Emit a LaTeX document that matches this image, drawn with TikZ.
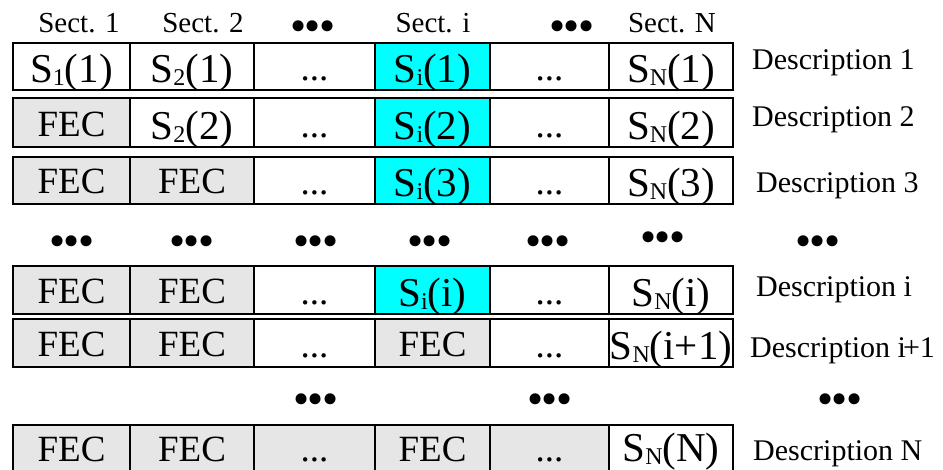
\documentclass[tikz,border=0pt]{standalone}
\usepackage{fontspec}
\setmainfont{Liberation Serif}
\definecolor{fecgray}{RGB}{230,230,230}
\definecolor{hlcyan}{RGB}{0,255,255}
% subscript after S
\newcommand\Sx[1]{\raisebox{-3pt}{\fontsize{24}{24}\selectfont #1}}
% three large bullets set close together
\newcommand\bigdots{•\kern-2pt•\kern-2pt•}
% one cell: name, x1, x2, y1, y2, box style, text style, text
\newcommand\putcell[8]{%
  \node[#6,minimum width={#3-#2},minimum height={#5-#4}] (#1) at ({(#2+#3)/2},{(#4+#5)/2}) {};
  \node[#7] at (#1.south) {#8};
}
\begin{document}
\begin{tikzpicture}[x=1pt,y=-1pt,
  cellbox/.style={draw=black,line width=1.2pt,inner sep=0pt,outer sep=0pt,fill=white},
  fecbox/.style={cellbox,fill=fecgray},
  hlbox/.style={cellbox,fill=hlcyan},
  rowframe/.style={draw=black,line width=2pt},
  stxt/.style={font=\fontsize{41}{41}\selectfont,inner sep=0pt,anchor=base,yshift=7pt},
  ftxt/.style={font=\fontsize{37}{37}\selectfont,inner sep=0pt,anchor=base,yshift=10pt},
  dtxt/.style={font=\fontsize{37}{37}\selectfont,inner sep=0pt,anchor=base,yshift=9pt},
  hdr/.style={font=\fontsize{29}{29}\selectfont,inner sep=0pt,anchor=base},
  bul/.style={font=\fontsize{46}{46}\selectfont,inner sep=0pt,anchor=base,yshift=-16.8pt},
  desc/.style={font=\fontsize{30}{30}\selectfont,inner sep=0pt,anchor=base west}]
\useasboundingbox (0,0) rectangle (943,470);

% column headers
\node[hdr] (h1) at (79,33) {Sect. 1};
\node[hdr] (h2) at (203,33) {Sect. 2};
\node[bul] (h3) at (313,25) {\bigdots};
\node[hdr] (h4) at (433,33) {Sect. i};
\node[bul] (h5) at (572,25) {\bigdots};
\node[hdr] (h6) at (672,33) {Sect. N};

% row 1
\putcell{r1a}{13}{130}{43}{90}{cellbox}{stxt}{S\Sx{1}(1)}
\putcell{r1b}{130}{254}{43}{90}{cellbox}{stxt}{S\Sx{2}(1)}
\putcell{r1c}{254}{375}{43}{90}{cellbox}{dtxt}{...}
\putcell{r1d}{375}{490}{43}{90}{hlbox}{stxt}{S\Sx{i}(1)}
\putcell{r1e}{490}{609}{43}{90}{cellbox}{dtxt}{...}
\putcell{r1f}{609}{733}{43}{90}{cellbox}{stxt}{S\Sx{N}(1)}
\draw[rowframe] (r1a.north west) rectangle (r1f.south east);
\node[desc] (d1) at (752,70) {Description 1};

% row 2
\putcell{r2a}{13}{130}{98}{147}{fecbox}{ftxt}{FEC}
\putcell{r2b}{130}{254}{98}{147}{cellbox}{stxt}{S\Sx{2}(2)}
\putcell{r2c}{254}{375}{98}{147}{cellbox}{dtxt}{...}
\putcell{r2d}{375}{490}{98}{147}{hlbox}{stxt}{S\Sx{i}(2)}
\putcell{r2e}{490}{609}{98}{147}{cellbox}{dtxt}{...}
\putcell{r2f}{609}{733}{98}{147}{cellbox}{stxt}{S\Sx{N}(2)}
\draw[rowframe] (r2a.north west) rectangle (r2f.south east);
\node[desc] (d2) at (752,127) {Description 2};

% row 3
\putcell{r3a}{13}{130}{157}{204}{fecbox}{ftxt}{FEC}
\putcell{r3b}{130}{254}{157}{204}{fecbox}{ftxt}{FEC}
\putcell{r3c}{254}{375}{157}{204}{cellbox}{dtxt}{...}
\putcell{r3d}{375}{490}{157}{204}{hlbox}{stxt}{S\Sx{i}(3)}
\putcell{r3e}{490}{609}{157}{204}{cellbox}{dtxt}{...}
\putcell{r3f}{609}{733}{157}{204}{cellbox}{stxt}{S\Sx{N}(3)}
\draw[rowframe] (r3a.north west) rectangle (r3f.south east);
\node[desc] (d3) at (756,193) {Description 3};

% skipped rows
\node[bul] (g1) at (72,240) {\bigdots};
\node[bul] (g2) at (192,240) {\bigdots};
\node[bul] (g3) at (316,240) {\bigdots};
\node[bul] (g4) at (430,240) {\bigdots};
\node[bul] (g5) at (548,240) {\bigdots};
\node[bul] (g6) at (663,236) {\bigdots};
\node[bul] (g7) at (818,240) {\bigdots};

% row i
\putcell{ria}{13}{130}{266}{314}{fecbox}{ftxt}{FEC}
\putcell{rib}{130}{254}{266}{314}{fecbox}{ftxt}{FEC}
\putcell{ric}{254}{375}{266}{314}{cellbox}{dtxt}{...}
\putcell{rid}{375}{490}{266}{314}{hlbox}{stxt}{S\Sx{i}(i)}
\putcell{rie}{490}{609}{266}{314}{cellbox}{dtxt}{...}
\putcell{rif}{609}{733}{266}{314}{cellbox}{stxt}{S\Sx{N}(i)}
\draw[rowframe] (ria.north west) rectangle (rif.south east);
\node[desc] (di) at (756,297) {Description i};

% row i+1
\putcell{rja}{13}{130}{319}{367}{fecbox}{ftxt}{FEC}
\putcell{rjb}{130}{254}{319}{367}{fecbox}{ftxt}{FEC}
\putcell{rjc}{254}{375}{319}{367}{cellbox}{dtxt}{...}
\putcell{rjd}{375}{490}{319}{367}{fecbox}{ftxt}{FEC}
\putcell{rje}{490}{609}{319}{367}{cellbox}{dtxt}{...}
\putcell{rjf}{609}{733}{319}{367}{cellbox}{stxt}{S\Sx{N}(i+1)}
\draw[rowframe] (rja.north west) rectangle (rjf.south east);
\node[desc] (dj) at (750,358) {Description i\kern-3pt+1};

% skipped rows
\node[bul] (k1) at (316,398) {\bigdots};
\node[bul] (k2) at (550,398) {\bigdots};
\node[bul] (k3) at (840,398) {\bigdots};

% row N (its lower edge runs past the bottom of the page)
\putcell{rna}{13}{130}{425}{473}{fecbox}{ftxt,yshift=2pt}{FEC}
\putcell{rnb}{130}{254}{425}{473}{fecbox}{ftxt,yshift=2pt}{FEC}
\putcell{rnc}{254}{375}{425}{473}{fecbox}{dtxt,yshift=3pt}{...}
\putcell{rnd}{375}{490}{425}{473}{fecbox}{ftxt,yshift=2pt}{FEC}
\putcell{rne}{490}{609}{425}{473}{fecbox}{dtxt,yshift=3pt}{...}
\putcell{rnf}{609}{733}{425}{473}{cellbox}{stxt,yshift=5pt}{S\Sx{N}(N)}
\draw[rowframe] (rna.north west) rectangle (rnf.south east);
\node[desc] (dn) at (753,460) {Description N};
\end{tikzpicture}
\end{document}
